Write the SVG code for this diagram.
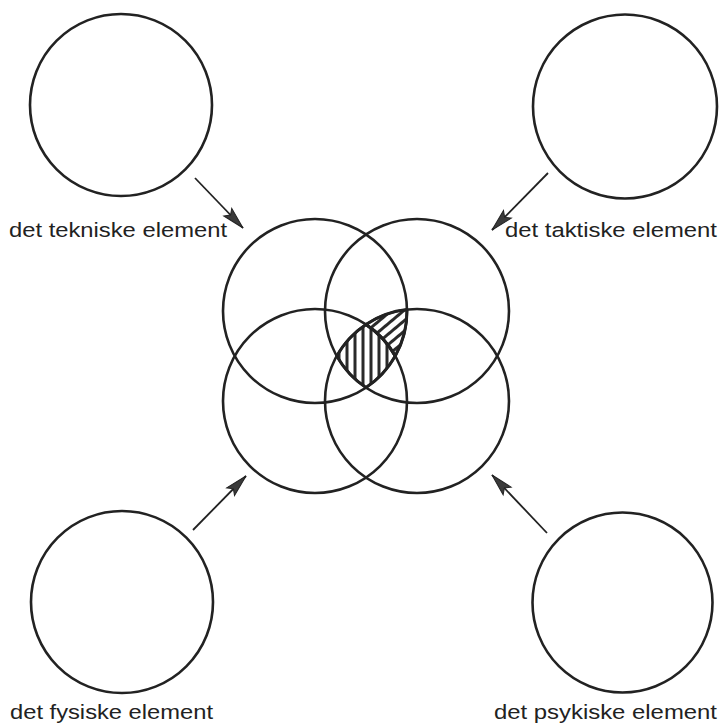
<svg xmlns="http://www.w3.org/2000/svg" width="720" height="727" viewBox="0 0 720 727">
  <style>
    .ring { fill: none; stroke: #222; stroke-width: 2.6; }
    .lbl { font-family: "Liberation Sans", Arial, sans-serif; font-size: 20.5px; fill: #222; }
    .conn { stroke: #222; stroke-width: 1.8; fill: none; marker-end: url(#dart); }
    .hatch-edge { stroke: #222; stroke-width: 3; stroke-linejoin: round; }
  </style>
  <defs>
    <marker id="dart" markerUnits="userSpaceOnUse" markerWidth="30" markerHeight="16" viewBox="-24 -8 26 16" refX="0" refY="0" orient="auto">
      <path d="M0,0 L-22,-5.5 L-18,0 L-22,5.5 Z" fill="#3a3a3a" stroke="#222" stroke-width="1"/>
    </marker>
    <pattern id="vhatch" patternUnits="userSpaceOnUse" x="345.5" y="0" width="8" height="10">
      <rect x="0" y="0" width="3" height="10" fill="#2a2a2a"/>
    </pattern>
    <pattern id="dhatch" patternUnits="userSpaceOnUse" width="8" height="10" patternTransform="rotate(50)">
      <rect x="0" y="0" width="3" height="10" fill="#2a2a2a"/>
    </pattern>
  </defs>
  <rect width="720" height="727" fill="#fff"/>

  <g id="det-tekniske-element">
    <circle class="ring" cx="121" cy="105" r="91"/>
    <text class="lbl" x="9" y="237" textLength="218" lengthAdjust="spacingAndGlyphs">det tekniske element</text>
  </g>

  <g id="det-taktiske-element">
    <circle class="ring" cx="625" cy="106.5" r="92"/>
    <text class="lbl" x="505" y="237" textLength="212" lengthAdjust="spacingAndGlyphs">det taktiske element</text>
  </g>

  <g id="det-fysiske-element">
    <circle class="ring" cx="122" cy="602" r="91"/>
    <text class="lbl" x="10" y="719" textLength="203" lengthAdjust="spacingAndGlyphs">det fysiske element</text>
  </g>

  <g id="det-psykiske-element">
    <circle class="ring" cx="622.5" cy="602.5" r="90"/>
    <text class="lbl" x="494" y="719" textLength="223" lengthAdjust="spacingAndGlyphs">det psykiske element</text>
  </g>

  <g id="samspil">
    <path class="hatch-edge" fill="url(#vhatch)" d="M336.76,356 A92,92 0 0 1 366,324.43 A92,92 0 0 1 395.24,356 A92,92 0 0 1 366,387.57 A92,92 0 0 1 336.76,356 Z"/>
    <path class="hatch-edge" fill="url(#dhatch)" d="M366,324.43 A92,92 0 0 1 407,309.55 A92,92 0 0 1 395.24,356 A92,92 0 0 0 366,324.43 Z"/>
    <circle class="ring" cx="315" cy="311" r="92"/>
    <circle class="ring" cx="417" cy="311" r="92"/>
    <circle class="ring" cx="315" cy="401" r="92"/>
    <circle class="ring" cx="417" cy="401" r="92"/>
  </g>

  <g id="connectors">
    <line class="conn" x1="195" y1="178" x2="243" y2="228"/>
    <line class="conn" x1="548" y1="173" x2="492" y2="230"/>
    <line class="conn" x1="193" y1="530" x2="246" y2="476"/>
    <line class="conn" x1="547" y1="533" x2="492" y2="475"/>
  </g>
</svg>
